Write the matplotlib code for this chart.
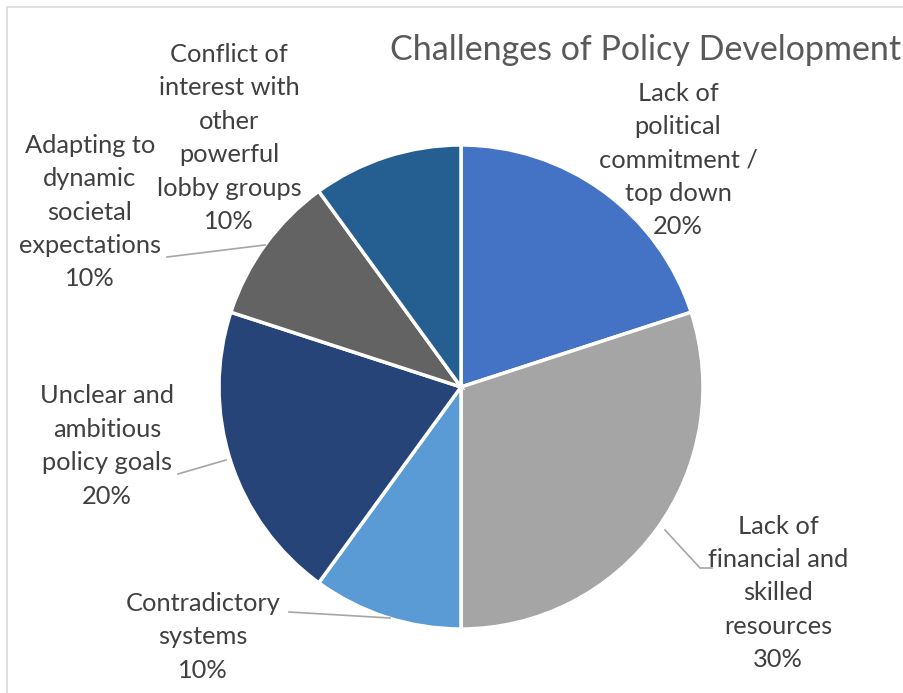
import matplotlib.pyplot as plt
from matplotlib.patches import Rectangle

W, H = 904, 693

labels = ["Lack of\npolitical\ncommitment /\ntop down",
          "Lack of\nfinancial and\nskilled\nresources",
          "Contradictory\nsystems",
          "Unclear and\nambitious\npolicy goals",
          "Adapting to\ndynamic\nsocietal\nexpectations",
          "Conflict of\ninterest with\nother\npowerful\nlobby groups"]
values = [20, 30, 10, 20, 10, 10]
colors = ["#4472C4", "#A5A5A5", "#5B9BD5", "#264478", "#636363", "#255E91"]

# label centres in pixels (layout only)
label_pos = [(678, 160), (778, 593), (203, 637), (107, 446), (90, 212), (229, 138)]
# leader lines in pixels
leaders = [None,
           [(665, 530), (700, 568), (712, 568)],
           [(289, 612), (390, 618)],
           [(178, 474), (226, 460)],
           [(167, 257), (265, 245)],
           None]

fig = plt.figure(figsize=(W / 100, H / 100), dpi=100)
ax = fig.add_axes([0, 0, 1, 1])

ax.add_patch(Rectangle((7, -10), W + 20, H - 7 + 10, fill=False, edgecolor="#D9D9D9", lw=1.2))

ax.pie(values, colors=colors, startangle=90, counterclock=False,
       center=(461, H - 387), radius=242, frame=True,
       wedgeprops=dict(edgecolor="white", linewidth=2.5))
ax.set_xlim(0, W)
ax.set_ylim(0, H)
ax.set_aspect("auto")
ax.axis("off")

for lab, v, (x, y) in zip(labels, values, label_pos):
    ax.text(x, H - y, f"{lab}\n{v}%", ha="center", va="center", fontsize=18.3,
            family="Lato", color="#404040", linespacing=1.55)

for seg in leaders:
    if seg:
        xs = [p[0] for p in seg]
        ys = [H - p[1] for p in seg]
        ax.plot(xs, ys, color="#A6A6A6", lw=1.2)

ax.text(390, H - 50, "Challenges of Policy Development", ha="left", va="center",
        fontsize=24.5, family="Lato", color="#595959")

fig.savefig("out.png", dpi=100)
